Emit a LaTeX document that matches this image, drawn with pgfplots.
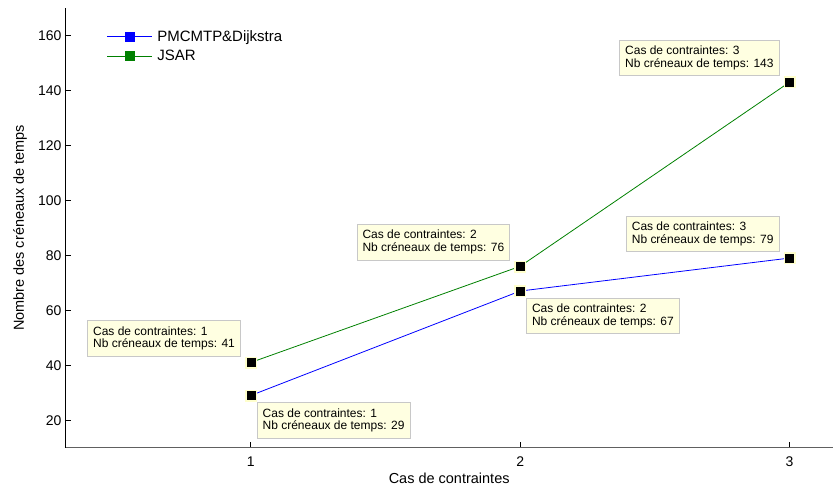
\documentclass[border=0pt]{standalone}
\usepackage{fontspec}
\setmainfont{Liberation Sans}
\usepackage{pgfplots}
\pgfplotsset{compat=1.18}
\definecolor{tipfill}{HTML}{FFFFE1}
\definecolor{tiphalo}{HTML}{FFFFCC}
\definecolor{tipedge}{HTML}{C8C8C8}
\definecolor{mlgreen}{HTML}{008000}
\definecolor{mlblue}{HTML}{0000FF}
\tikzset{tip/.style={draw=tipedge, fill=tipfill, line width=0.8pt,
    font=\fontsize{12}{12.5}\selectfont, align=left,
    inner xsep=5.5pt, inner ysep=6pt}}

\begin{document}
\begin{tikzpicture}
\begin{axis}[
  scale only axis, width=769pt, height=440pt,
  xmin=0.31, xmax=3.163, ymin=10, ymax=170,
  axis x line*=bottom, axis y line*=left,
  every non boxed x axis/.append style={x axis line style={-}},
  every non boxed y axis/.append style={y axis line style={-}},
  x axis line style={-, gray!75!black, line width=1.2pt},
  y axis line style={-, black, line width=0.7pt},
  xtick={1,2,3}, ytick={20,40,...,160},
  tick align=inside, major tick length=6pt,
  tick style={black, line width=0.7pt},
  tick label style={font=\fontsize{14}{16}\selectfont},
  xticklabel style={yshift=-6pt},
  /pgf/number format/assume math mode=true,
  xlabel={Cas de contraintes},
  ylabel={Nombre des créneaux de temps},
  label style={font=\fontsize{14.5}{16}\selectfont},
  xlabel style={at={(axis description cs:0.5,-0.0705)}, anchor=center},
  ylabel style={at={(axis description cs:-0.0585,0.5)}, anchor=center},
  clip=false,
  legend style={draw=none, fill=none, at={(axis description cs:0.0545,0.953)},
    anchor=north west, inner sep=0pt, row sep=4.5pt,
    font=\fontsize{15}{17}\selectfont,
    nodes={inner ysep=1.5pt, inner xsep=4.5pt, anchor=west}},
  legend cell align=left,
  legend image code/.code={\draw[mark repeat=2,mark phase=2]
    plot coordinates {(0pt,0pt)(22.5pt,0pt)(45pt,0pt)};},
]
\addplot[mlblue, line width=0.8pt, mark=square*, mark size=4.5pt,
  mark options={fill=mlblue}] coordinates {(1,29)(2,67)(3,79)};
\addlegendentry{PMCMTP\&Dijkstra}
\addplot[mlgreen, line width=0.8pt, mark=square*, mark size=4.5pt,
  mark options={fill=mlgreen}] coordinates {(1,41)(2,76)(3,143)};
\addlegendentry{JSAR}

% data tip markers
\addplot[only marks, mark=square*, mark size=5.5pt, draw=tiphalo, fill=tiphalo,
  forget plot] coordinates {(1,29)(2,67)(3,79)(1,41)(2,76)(3,143)};
\addplot[only marks, mark=square*, mark size=4pt, draw=black, fill=black,
  forget plot] coordinates {(1,29)(2,67)(3,79)(1,41)(2,76)(3,143)};

% data tip boxes
\node[tip, anchor=south east] at ([xshift=-10pt,yshift=6pt]axis cs:3,143)
  {Cas de contraintes: 3\\Nb créneaux de temps: 143};
\node[tip, anchor=south east] at ([xshift=-10pt,yshift=6pt]axis cs:3,79)
  {Cas de contraintes: 3\\Nb créneaux de temps: 79};
\node[tip, anchor=south east] at ([xshift=-10pt,yshift=6pt]axis cs:2,76)
  {Cas de contraintes: 2\\Nb créneaux de temps: 76};
\node[tip, anchor=north west] at ([xshift=6pt,yshift=-6.5pt]axis cs:2,67)
  {Cas de contraintes: 2\\Nb créneaux de temps: 67};
\node[tip, anchor=south east] at ([xshift=-10pt,yshift=6pt]axis cs:1,41)
  {Cas de contraintes: 1\\Nb créneaux de temps: 41};
\node[tip, anchor=north west] at ([xshift=6pt,yshift=-6.5pt]axis cs:1,29)
  {Cas de contraintes: 1\\Nb créneaux de temps: 29};

% page frame
\path ([xshift=-65pt,yshift=-43pt]rel axis cs:0,0) -- ([yshift=8pt]rel axis cs:1,1);
\end{axis}
\end{tikzpicture}
\end{document}
